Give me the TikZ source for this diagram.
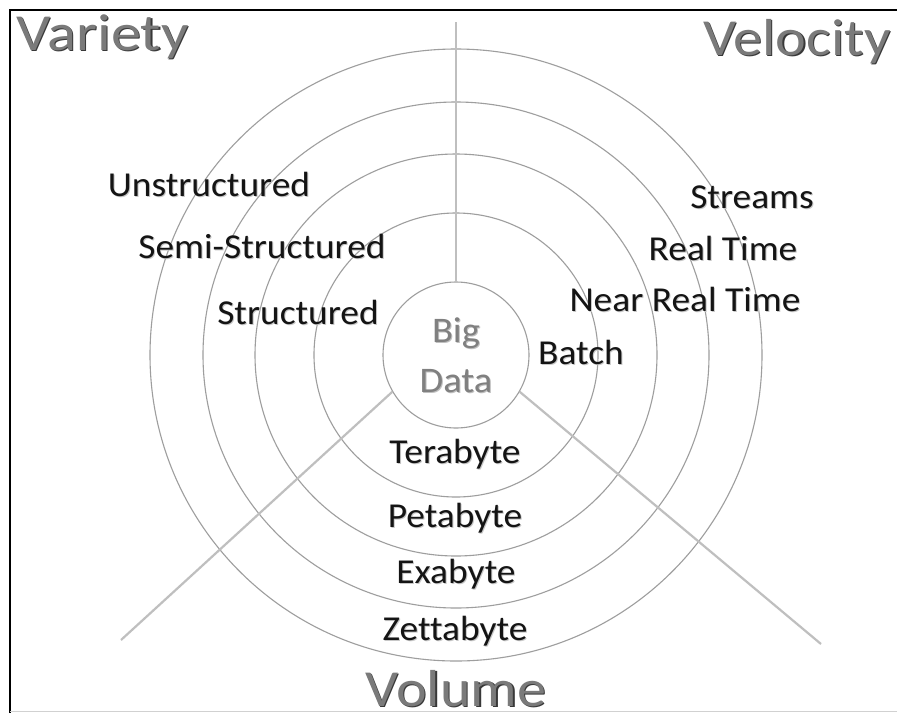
\documentclass[tikz,border=0pt]{standalone}
\usepackage{fontspec}
\setmainfont[Ligatures=NoCommon]{Carlito}
% slightly widened lettering
\newcommand{\wide}[2]{\scalebox{#1}[1]{#2}}
\begin{document}
\begin{tikzpicture}[x=1pt,y=-1pt,
  ring/.style={draw=black!38,line width=1.1pt},
  spoke/.style={draw=black!25,line width=2.2pt},
  labelfont/.style={font=\fontsize{35}{38}\selectfont},
  label/.style={anchor=base,inner sep=0pt,text=black!92,labelfont},
  labelshade/.style={anchor=base,inner sep=0pt,text=black!22,labelfont},
  titlefont/.style={font=\fontsize{52}{56}\selectfont},
  title/.style={anchor=base,inner sep=0pt,text=black!52,titlefont},
  titleshade/.style={anchor=base,inner sep=0pt,text=black!78,titlefont},
  coretext/.style={anchor=base,inner sep=0pt,text=black!50,font=\fontsize{36}{39}\selectfont},
  coreshade/.style={anchor=base,inner sep=0pt,text=black!25,font=\fontsize{36}{39}\selectfont}]
\useasboundingbox (0,0) rectangle (897,713);
\fill[white] (0,0) rectangle (897,713);

% outer frame
\draw[black,line width=2.6pt] (10,713) -- (10,10) -- (897,10);
\draw[black!18,line width=1.2pt] (10,711.5) -- (897,711.5);

% concentric rings around the core
\coordinate (c) at (456,355);
\foreach \r in {142,201,253,306}
  \draw[ring] (c) circle[radius=\r pt];
\node[circle,ring,fill=white,minimum size=146pt,inner sep=0pt] (core) at (c) {};

% the three axes
\coordinate (topend) at (456,22);
\coordinate (leftend) at (121,640);
\coordinate (rightend) at (821,644);
\draw[spoke] (core.north) -- (topend);
\draw[spoke] (core.210) -- (leftend);
\draw[spoke] (core.330) -- (rightend);

% core label
\node[coreshade] at (457,343) {\wide{1.07}{Big}};
\node[coretext] (big) at (456,342) {\wide{1.07}{Big}};
\node[coreshade] at (457,393) {\wide{1.07}{Data}};
\node[coretext] (data) at (456,392) {\wide{1.07}{Data}};

% axis titles with a soft shade
\node[titleshade] at (103.8,51.5) {\wide{1.16}{Variety}};
\node[title] (variety) at (102.5,50) {\wide{1.16}{Variety}};
\node[titleshade] at (798.3,56.5) {\wide{1.12}{Velocity}};
\node[title] (velocity) at (797,55) {\wide{1.12}{Velocity}};
\node[titleshade] at (457.3,707.5) {\wide{1.12}{Volume}};
\node[title] (volume) at (456,706) {\wide{1.12}{Volume}};

% scale labels, each with a faint shade behind it
\foreach \x/\y/\t/\n in {
    209/196/Unstructured/unstr,
    262/258/Semi-Structured/semi,
    298/324/Structured/str,
    752/208/Streams/streams,
    723/260/Real Time/rt,
    685/311/Near Real Time/nrt,
    581/364/Batch/batch,
    455/463/Terabyte/tb,
    455/527/Petabyte/pb,
    456/583/Exabyte/eb,
    455/640/Zettabyte/zb}{
  \node[labelshade] at (\x+1,\y+1) {\wide{1.07}{\t}};
  \node[label] (\n) at (\x,\y) {\wide{1.07}{\t}};
}
\end{tikzpicture}
\end{document}
